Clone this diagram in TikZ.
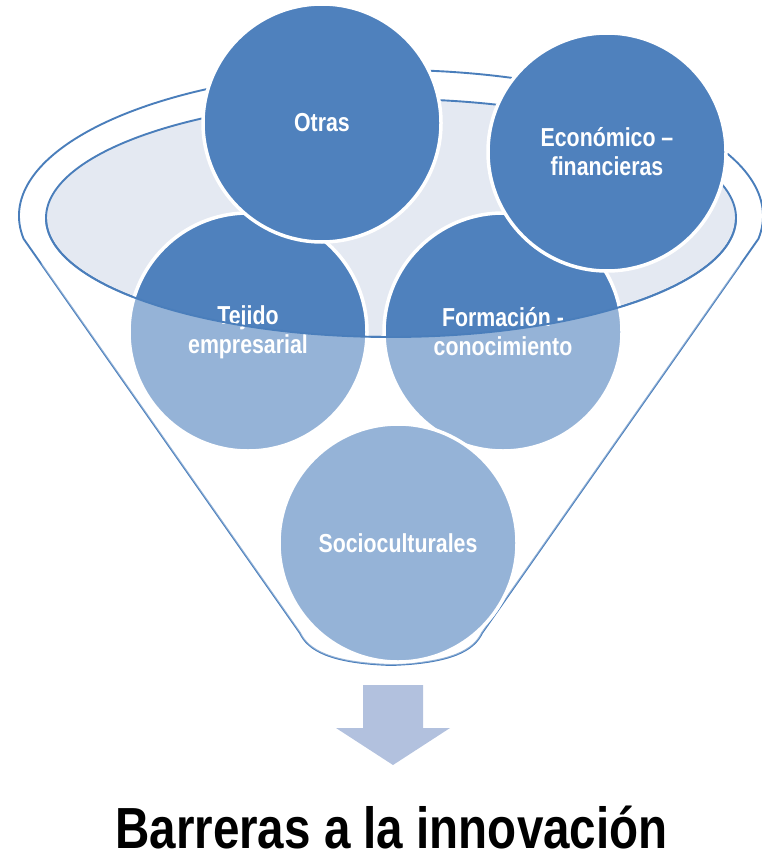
\documentclass[tikz,border=0pt]{standalone}
\usepackage{fontspec}
\setmainfont{Liberation Sans}[FakeStretch=0.82]
\definecolor{rimblue}{HTML}{4A7EBB}
\definecolor{darkblue}{HTML}{4F81BD}
\definecolor{ellfill}{HTML}{E4E9F2}
\definecolor{arrowblue}{HTML}{B2C1DE}
\tikzset{
  rim/.style={draw=rimblue, line width=1.9pt},
  circ/.style={circle, draw=white, line width=3.5pt, fill=darkblue, minimum size=238pt, inner sep=0pt,
    text=white, font=\bfseries\fontsize{26}{29}\selectfont, align=center},
  title/.style={font=\bfseries\fontsize{58}{64}\selectfont, text=black, inner sep=0pt}
}
\begin{document}
\begin{tikzpicture}[x=1pt,y=-1pt]
\useasboundingbox (0,0) rectangle (761,853);
% funnel outline
\draw[rim] (23.6,238.8) arc[start angle=171, end angle=369, x radius=372, y radius=146]
  -- (482,633) .. controls (474,650) and (452,663) .. (391,665)
  .. controls (330,663) and (308,650) .. (300,633) -- cycle;
% inner rim
\draw[rim, fill=ellfill] (391,218) ellipse [x radius=345, y radius=119];
% circles
\node[circ] (tejido) at (248,332) {Tejido\\empresarial};
\node[circ] (formacion) at (503,332) {Formación -\\conocimiento};
\node[circ] (otras) at (322,123) {Otras};
\node[circ] (economico) at (607,152) {Económico –\\financieras};
\node[circ] (socio) at (398,543) {Socioculturales};
% front overlay
\begin{scope}
\clip (23.6,238.8) arc[start angle=171, end angle=369, x radius=372, y radius=146]
  -- (482,633) .. controls (474,650) and (452,663) .. (391,665)
  .. controls (330,663) and (308,650) .. (300,633) -- cycle;
\fill[white, opacity=0.4] (46,218) arc[start angle=180, end angle=0, x radius=345, y radius=119]
  -- (800,900) -- (-20,900) -- cycle;
\end{scope}
\draw[rim] (46,218) arc[start angle=180, end angle=0, x radius=345, y radius=119];
% arrow
\fill[arrowblue] (363,685) -- (423,685) -- (423,728) -- (450,728) -- (393,765) -- (336,728) -- (363,728) -- cycle;
% title
\node[title, anchor=base] (titulo) at (391.5,848) {Barreras a la innovación};
\end{tikzpicture}
\end{document}
